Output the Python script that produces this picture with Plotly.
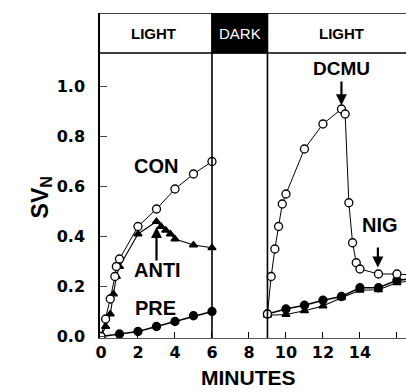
import plotly.graph_objects as go

# ---- data ----
con_t_left = [0, 0.25, 0.5, 0.75, 0.83, 1, 2, 3, 4, 5, 6]
con_left = [0, 0.07, 0.15, 0.24, 0.28, 0.31, 0.44, 0.51, 0.59, 0.65, 0.70]
con_t_right = [9, 9.2, 9.4, 9.6, 9.8, 10, 11, 12, 13, 13.2, 13.4, 13.6, 13.8, 14, 15, 16, 17]
con_right = [0.09, 0.24, 0.35, 0.44, 0.53, 0.57, 0.75, 0.85, 0.91, 0.89, 0.535, 0.375, 0.295, 0.27, 0.25, 0.25, 0.245]

anti_t_left = [0, 0.25, 0.5, 0.67, 0.83, 1, 2, 3, 3.25, 3.5, 3.75, 4, 5, 6]
anti_left = [0, 0.04, 0.09, 0.17, 0.24, 0.28, 0.41, 0.46, 0.44, 0.425, 0.41, 0.39, 0.366, 0.355]
anti_t_right = [9, 10, 11, 12, 13, 14, 15, 16, 17]
anti_right = [0.085, 0.088, 0.103, 0.122, 0.155, 0.185, 0.187, 0.215, 0.225]

pre_t_left = [0, 1, 2, 3, 4, 5, 6]
pre_left = [0, 0.01, 0.02, 0.04, 0.06, 0.083, 0.10]
pre_t_right = [9, 10, 11, 12, 13, 14, 15, 16, 17]
pre_right = [0.09, 0.11, 0.125, 0.145, 0.16, 0.195, 0.195, 0.225, 0.232]

x_ticks = [0, 2, 4, 6, 8, 10, 12, 14, 16]
y_ticks = [0.0, 0.2, 0.4, 0.6, 0.8, 1.0]
y_tick_text = ["0.0", "0.2", "0.4", "0.6", "0.8", "1.0"]
phase_names = ["LIGHT", "DARK", "LIGHT"]
phase_label_x = [2.86, 7.49, 13.0]

FONT = "Liberation Sans, Arial, sans-serif"
TICKFONT = "DejaVu Sans, sans-serif"

fig = go.Figure()

def add(t, v, symbol, size, lw, fill):
    fig.add_trace(go.Scatter(
        x=t, y=v, mode="lines+markers",
        line=dict(color="black", width=lw),
        marker=dict(symbol=symbol, size=size, color=fill,
                    line=dict(color="black", width=1.3)),
        showlegend=False, hoverinfo="skip"))

add(pre_t_left, pre_left, "circle", 8, 1.6, "black")
add(pre_t_right, pre_right, "circle", 8, 1.6, "black")
add(anti_t_left, anti_left, "triangle-up", 7, 1.1, "black")
add(anti_t_right, anti_right, "triangle-up", 7, 1.1, "black")
add(con_t_left, con_left, "circle", 8, 1.0, "white")
add(con_t_right, con_right, "circle", 8, 1.0, "white")

y_top = 1.294
y_hdr = 1.134
y_bot = -0.006

shapes = [
    dict(type="rect", xref="x", yref="y", x0=6, x1=9, y0=y_hdr, y1=y_top,
         fillcolor="black", line=dict(color="black", width=1)),
    dict(type="line", xref="paper", yref="y", x0=0, x1=1, y0=y_hdr, y1=y_hdr,
         line=dict(color="black", width=1.3)),
    dict(type="line", xref="paper", yref="y", x0=0, x1=1, y0=y_top, y1=y_top,
         line=dict(color="black", width=1.3)),
    dict(type="line", xref="x", yref="y", x0=6, x1=6, y0=y_bot, y1=y_top,
         line=dict(color="black", width=1.6)),
    dict(type="line", xref="x", yref="y", x0=9, x1=9, y0=y_bot, y1=y_top,
         line=dict(color="black", width=1.6)),
]

ann = []
for name, px in zip(phase_names, phase_label_x):
    dark = name == "DARK"
    ann.append(dict(x=px, y=1.212, xref="x", yref="y", text=name, showarrow=False,
                    font=dict(family=FONT, size=15,
                              color="white" if dark else "black",
                              weight="normal" if dark else "bold")))

def label(x, y, text, size):
    ann.append(dict(x=x, y=y, xref="x", yref="y", text=text, showarrow=False,
                    font=dict(family=FONT, size=size, color="black", weight="bold")))

label(3.0, 0.682, "CON", 20)
label(3.08, 0.266, "ANTI", 20)
label(2.92, 0.114, "PRE", 20)
label(13.0, 1.074, "DCMU", 19)
label(15.08, 0.446, "NIG", 20)

def arrow(x, y_tail, y_tip):
    ann.append(dict(x=x, y=y_tip, ax=x, ay=y_tail, xref="x", yref="y",
                    axref="x", ayref="y", text="", showarrow=True,
                    arrowhead=2, arrowsize=1.0, arrowwidth=2.2, arrowcolor="black"))

arrow(13.0, 1.026, 0.925)
arrow(3.0, 0.298, 0.438)
arrow(14.97, 0.362, 0.276)

ann.append(dict(x=8.0, y=-0.123, xref="x", yref="paper", text="MINUTES",
                showarrow=False, yanchor="middle",
                font=dict(family=FONT, size=21, color="black", weight="bold")))
ann.append(dict(x=-0.245, y=0.431, xref="paper", yref="paper",
                text="SV<sub>N</sub>", textangle=-90, showarrow=False,
                font=dict(family=FONT, size=23, color="black", weight="bold")))

fig.update_layout(
    width=406, height=392,
    margin=dict(l=100, r=0, t=13, b=54),
    paper_bgcolor="white", plot_bgcolor="white",
    shapes=shapes, annotations=ann,
    xaxis=dict(range=[-0.054, 16.49], tickvals=x_ticks,
               ticks="inside", ticklen=6, tickcolor="black", tickwidth=1,
               showgrid=False, zeroline=False, showline=True,
               linecolor="#555555", linewidth=1,
               tickfont=dict(family=TICKFONT, size=16, color="black", weight="bold")),
    yaxis=dict(range=[y_bot, y_top], tickvals=y_ticks, ticktext=y_tick_text,
               ticks="inside", ticklen=7, tickcolor="#444444", tickwidth=1,
               showgrid=False, zeroline=False, showline=True,
               linecolor="black", linewidth=1.5, ticklabelstandoff=10,
               tickfont=dict(family=TICKFONT, size=16, color="black", weight="bold")),
)

fig.write_html("out.html")
